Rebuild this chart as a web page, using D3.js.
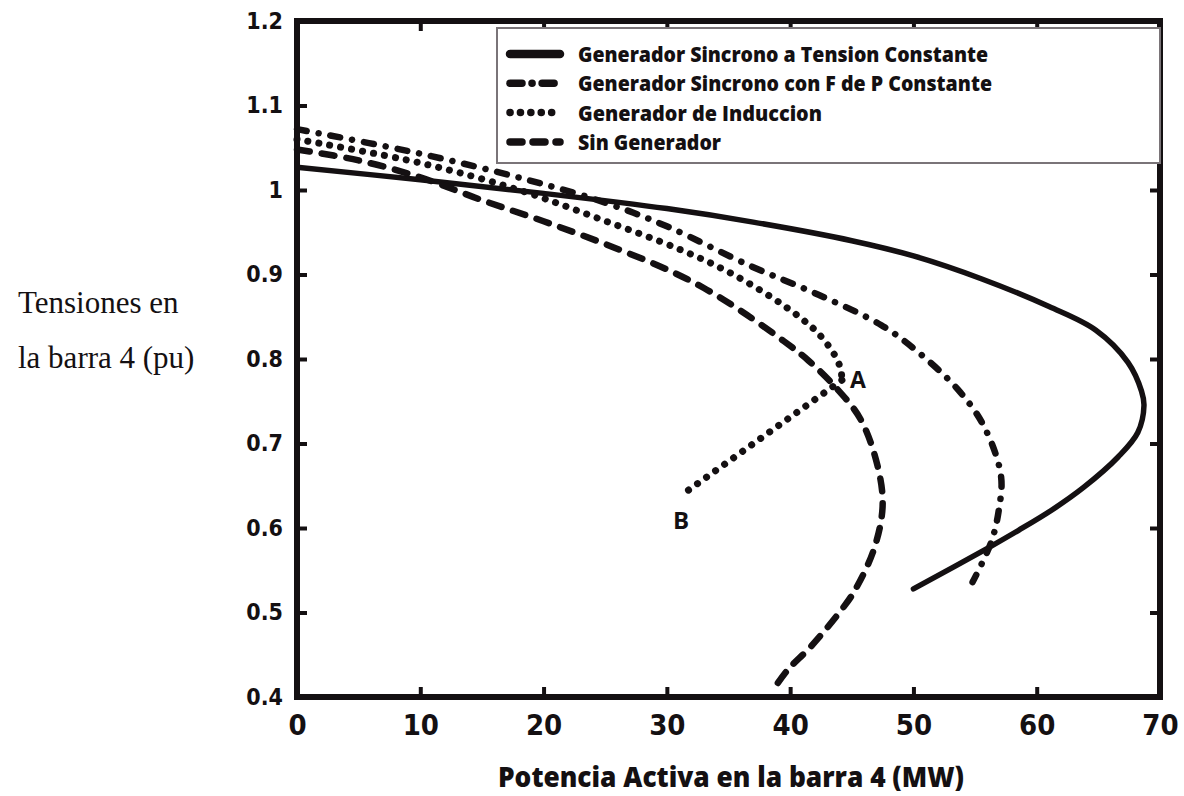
<!DOCTYPE html>
<html>
<head>
<meta charset="UTF-8">
<title>Tensiones en la barra 4</title>
<script src="https://d3js.org/d3.v7.min.js"></script>
<style>
  body { margin: 0; background: #fff; }
  svg { display: block; }
  .tick text { font-family: "DejaVu Sans Condensed", "DejaVu Sans", sans-serif; font-weight: bold; fill: #141012; }
</style>
</head>
<body>
<svg id="chart" width="1184" height="796"></svg>
<script>
// valores: P (MW) y V (pu)
const tensionP = [0, 10, 20, 30, 37, 45, 50, 55.5, 61, 64.8, 67.4, 68.5, 68.7, 68.2, 66.6, 63.8, 61.2, 58.5, 56, 50];
const tensionV = [1.027, 1.012, 0.996, 0.978, 0.962, 0.940, 0.922, 0.895, 0.862, 0.834, 0.796, 0.762, 0.745, 0.713, 0.684, 0.648, 0.621, 0.597, 0.576, 0.528];

const fdpP = [0, 10, 18.7, 25, 30, 36.8, 42.3, 47.4, 50.4, 53.6, 55.7, 57.1, 56.9, 56.3, 54.8];
const fdpV = [1.072, 1.043, 1.012, 0.985, 0.957, 0.910, 0.876, 0.840, 0.808, 0.764, 0.721, 0.662, 0.619, 0.583, 0.536];

const induccionP = [0, 10, 18, 24.7, 31, 35, 38.7, 40.9, 42.3, 43.6, 44.1, 44.2];
const induccionV = [1.060, 1.032, 1.000, 0.965, 0.930, 0.903, 0.871, 0.848, 0.830, 0.805, 0.788, 0.775];
// salto de A a B
const saltoP = [44.2, 31.1];
const saltoV = [0.775, 0.638];

const sinGenP = [0, 5, 10, 15, 20, 25, 30, 33, 36, 39.5, 41.5, 43.6, 45.7, 47.1, 47.5, 46.8, 45.2, 44.1, 41.7, 39.8, 38.6];
const sinGenV = [1.048, 1.035, 1.015, 0.988, 0.963, 0.936, 0.906, 0.884, 0.857, 0.821, 0.798, 0.768, 0.729, 0.673, 0.626, 0.575, 0.525, 0.502, 0.460, 0.432, 0.408];

const xTicks = [0, 10, 20, 30, 40, 50, 60, 70];
const yTicks = [0.4, 0.5, 0.6, 0.7, 0.8, 0.9, 1, 1.1, 1.2];

const leyenda = [
  "Generador Sincrono a Tension Constante",
  "Generador Sincrono con F de P Constante",
  "Generador de Induccion",
  "Sin Generador"
];

const ink = "#141012";
const svg = d3.select("#chart");
const L = 297, R = 1160, T = 21, B = 697;

const x = d3.scaleLinear().domain([0, 70]).range([L, R]);
const y = d3.scaleLinear().domain([0.4, 1.2]).range([B, T]);

// estilos de linea
const estilos = [
  { dash: null, width: 5.5 },
  { dash: "10 12 0.1 12", width: 6.5 },
  { dash: "0.1 11", width: 7 },
  { dash: "13 12", width: 6.5 }
];

// ejes con ticks hacia adentro
const gx = svg.append("g")
  .attr("transform", `translate(0,${B})`)
  .call(d3.axisBottom(x).tickValues(xTicks).tickSizeInner(-10).tickSizeOuter(0).tickFormat(d3.format("d")));
gx.selectAll("text").attr("y", 38).attr("dy", null).style("font-size", "29px");

svg.append("g")
  .attr("transform", `translate(0,${T})`)
  .call(d3.axisTop(x).tickValues(xTicks).tickSizeInner(-10).tickSizeOuter(0).tickFormat(""));

const gy = svg.append("g")
  .attr("transform", `translate(${L},0)`)
  .call(d3.axisLeft(y).tickValues(yTicks).tickSizeInner(-10).tickSizeOuter(0).tickPadding(14)
    .tickFormat(d => d === 1 ? "1" : d3.format(".1f")(d)));
gy.selectAll("text").style("font-size", "23px");

svg.append("g")
  .attr("transform", `translate(${R},0)`)
  .call(d3.axisRight(y).tickValues(yTicks).tickSizeInner(-10).tickSizeOuter(0).tickFormat(""));

svg.selectAll(".domain").remove();
svg.selectAll(".tick line").attr("stroke", ink).attr("stroke-width", 4);

// curvas
const series = [
  [tensionP, tensionV],
  [fdpP, fdpV],
  [induccionP, induccionV],
  [sinGenP, sinGenV]
];

const line = d3.line()
  .x(d => x(d[0]))
  .y(d => y(d[1]))
  .curve(d3.curveCatmullRom.alpha(0.5));

series.forEach((s, i) => {
  const pts = s[0].map((p, j) => [p, s[1][j]]);
  svg.append("path")
    .datum(pts)
    .attr("fill", "none")
    .attr("stroke", ink)
    .attr("stroke-width", estilos[i].width)
    .attr("stroke-linecap", "round")
    .attr("stroke-dasharray", estilos[i].dash)
    .attr("d", line);
});

svg.append("path")
  .datum(saltoP.map((p, j) => [p, saltoV[j]]))
  .attr("fill", "none")
  .attr("stroke", ink)
  .attr("stroke-width", 7)
  .attr("stroke-linecap", "round")
  .attr("stroke-dasharray", "0.1 11")
  .attr("d", d3.line().x(d => x(d[0])).y(d => y(d[1])));

// etiquetas A y B
svg.append("text").attr("x", 850).attr("y", 388)
  .text("A").style("font", "bold 23px 'Open Sans', sans-serif").attr("fill", ink);
svg.append("text").attr("x", 673).attr("y", 529)
  .text("B").style("font", "bold 24px 'Open Sans', sans-serif").attr("fill", ink);

// marco
svg.append("rect")
  .attr("x", L).attr("y", T)
  .attr("width", R - L).attr("height", B - T)
  .attr("fill", "none").attr("stroke", ink).attr("stroke-width", 6);

// leyenda
const lg = svg.append("g");
lg.append("rect")
  .attr("x", 497).attr("y", 28).attr("width", 663).attr("height", 135)
  .attr("fill", "#fff").attr("stroke", "#7a7478").attr("stroke-width", 2);

const anchos = [410, 414, 244, 143];
leyenda.forEach((t, i) => {
  const yy = 54 + i * 29.3;
  lg.append("line")
    .attr("x1", 510).attr("x2", 560).attr("y1", yy).attr("y2", yy)
    .attr("stroke", ink)
    .attr("stroke-width", i === 0 ? 8.5 : 7.5)
    .attr("stroke-linecap", "round")
    .attr("stroke-dasharray", i === 0 ? null : i === 1 ? "12 10 0.1 10" : i === 2 ? "0.1 10.3" : "12 11");
  lg.append("text")
    .attr("x", 578).attr("y", yy + 8)
    .attr("textLength", anchos[i]).attr("lengthAdjust", "spacingAndGlyphs")
    .style("font", "800 21px 'Open Sans', sans-serif")
    .attr("fill", ink)
    .text(t);
});

// titulos
svg.append("text")
  .attr("x", 731).attr("y", 787).attr("text-anchor", "middle")
  .attr("textLength", 466).attr("lengthAdjust", "spacingAndGlyphs")
  .style("font", "800 28px 'Open Sans', sans-serif").attr("fill", ink)
  .text("Potencia Activa en la barra 4 (MW)");

svg.append("text")
  .attr("x", 18).attr("y", 313)
  .style("font", "31px 'Liberation Serif', serif").attr("fill", ink)
  .text("Tensiones en");
svg.append("text")
  .attr("x", 18).attr("y", 368)
  .style("font", "31px 'Liberation Serif', serif").attr("fill", ink)
  .text("la barra 4 (pu)");
</script>
</body>
</html>
